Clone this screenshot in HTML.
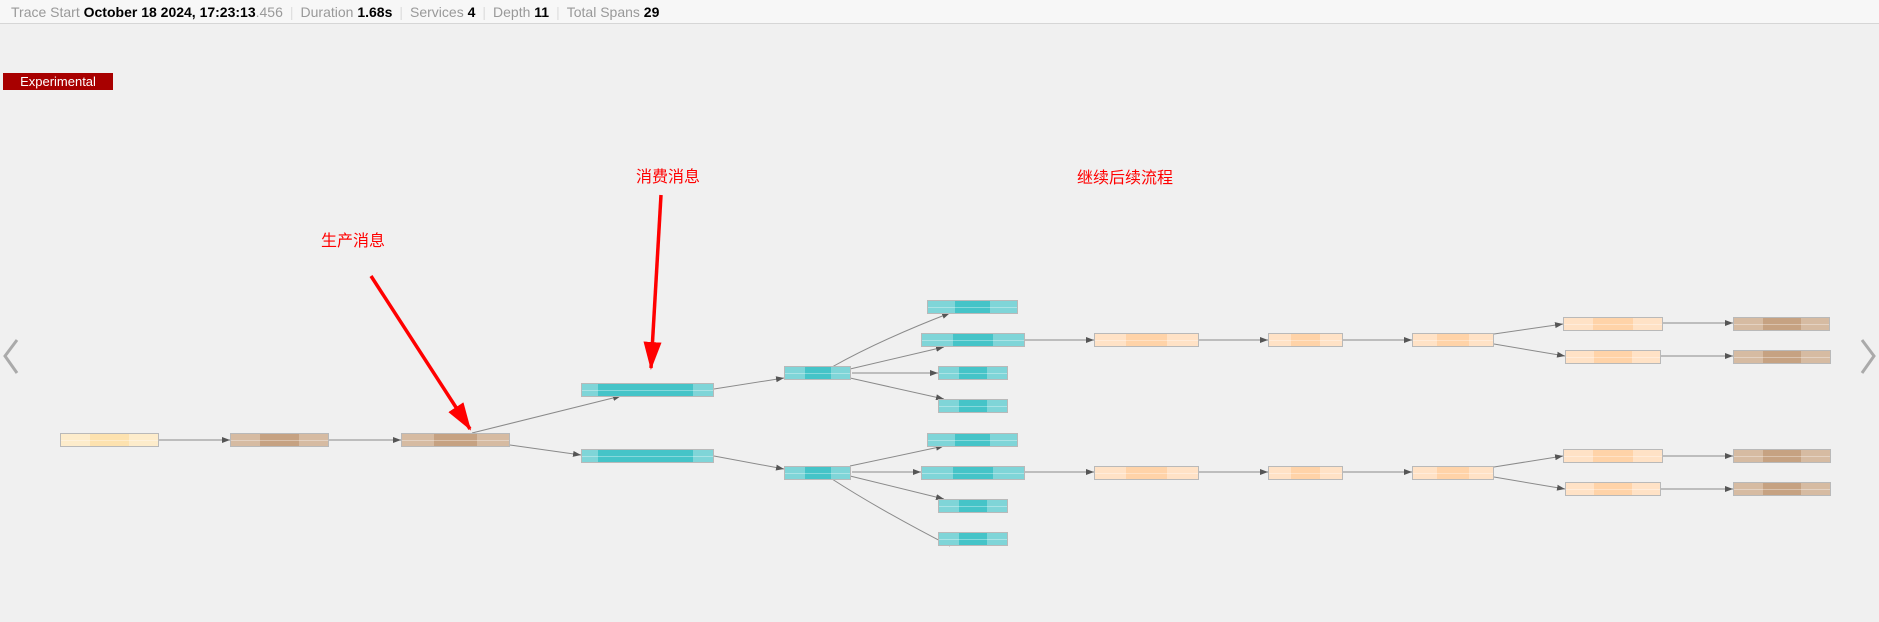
<!DOCTYPE html>
<html><head><meta charset="utf-8"><style>
*{margin:0;padding:0;box-sizing:border-box}
body{width:1879px;height:622px;background:#f0f0f0;position:relative;overflow:hidden;font-family:"Liberation Sans","Noto Sans CJK SC",sans-serif}
.hd{position:absolute;left:0;top:0;width:1879px;height:24px;background:#f7f7f7;border-bottom:1px solid #d6d6d6;font-size:14px;color:#999;line-height:24px;padding-left:11px;white-space:nowrap}
.hd b{color:#000}.hd .s{color:#ddd;margin:0 7px}
.exp{position:absolute;left:3px;top:73px;width:110px;height:17px;background:#a80000;color:#fff;font-size:13px;line-height:17px;text-align:center}
.n{position:absolute;height:14px;border:1px solid #b9b9b9;display:flex;font-size:3px;color:#555;overflow:hidden}
.n:after{content:"";position:absolute;left:0;right:0;top:6px;height:1px;background:rgba(255,255,255,.35)}
.n div{height:100%}
.n .l,.n .r{width:30%}
.n .m{flex:1}
.t .l,.t .r{background:#7fd5d8}.t .m{background:#45c4c8}
.o .l,.o .r{background:#ffe2c6}.o .m{background:#ffd3a8}
.b .l,.b .r{background:#d6bba2}.b .m{background:#c6a282}
.y .l,.y .r{background:#fdeccb}.y .m{background:#fde2af}
.ann{position:absolute;color:#f00;font-size:16px;white-space:nowrap}
</style></head><body>
<div class="hd">Trace Start <b>October 18 2024, 17:23:13</b>.456<span class="s">|</span>Duration <b>1.68s</b><span class="s">|</span>Services <b>4</b><span class="s">|</span>Depth <b>11</b><span class="s">|</span>Total Spans <b>29</b></div>
<div class="exp">Experimental</div>
<svg width="1879" height="622" style="position:absolute;left:0;top:0">
<defs><marker id="a" markerWidth="8" markerHeight="6" refX="8" refY="3" orient="auto" markerUnits="userSpaceOnUse"><path d="M0,0L8,3L0,6z" fill="#555"/></marker>
<marker id="r" markerWidth="28" markerHeight="18" refX="26" refY="9" orient="auto" markerUnits="userSpaceOnUse"><path d="M0,0L28,9L0,18z" fill="#f00"/></marker></defs>
<g stroke="#8a8a8a" stroke-width="1" fill="none" marker-end="url(#a)">
<path d="M159,440L230,440"/><path d="M329,440L401,440"/>
<path d="M472,433L621,396"/><path d="M510,445L581,455"/>
<path d="M714,389L784,378"/><path d="M714,456L784,469"/>
<path d="M832,367Q880,340 950,313"/><path d="M850,369L944,347"/><path d="M852,373L938,373"/><path d="M850,378L944,399"/>
<path d="M850,466L944,446"/><path d="M852,472L921,472"/><path d="M850,476L944,499"/><path d="M832,479Q880,510 950,546"/>
<path d="M1025,340L1094,340"/><path d="M1199,340L1268,340"/><path d="M1343,340L1412,340"/>
<path d="M1025,472L1094,472"/><path d="M1199,472L1268,472"/><path d="M1343,472L1412,472"/>
<path d="M1494,334L1563,324"/><path d="M1494,344L1565,356"/><path d="M1663,323L1733,323"/><path d="M1661,356L1733,356"/>
<path d="M1494,467L1563,456"/><path d="M1494,477L1565,489"/><path d="M1663,456L1733,456"/><path d="M1661,489L1733,489"/>
</g>
<g stroke="#f00" stroke-width="3.5" fill="none" marker-end="url(#r)">
<path d="M371,276L470,429"/><path d="M661,195L651,368"/>
</g>
<path d="M17,340L5,356L17,373" stroke="#aaa" stroke-width="3" fill="none"/>
<path d="M1862,340L1874,356L1862,373" stroke="#aaa" stroke-width="3" fill="none"/>
</svg>
<div class="ann" style="left:321px;top:227px">生产消息</div>
<div class="ann" style="left:636px;top:163px">消费消息</div>
<div class="ann" style="left:1077px;top:164px">继续后续流程</div>

<div class="n y" style="left:60px;top:433px;width:99px"><div class="l"></div><div class="m"></div><div class="r"></div></div>
<div class="n b" style="left:230px;top:433px;width:99px"><div class="l"></div><div class="m"></div><div class="r"></div></div>
<div class="n b" style="left:401px;top:433px;width:109px"><div class="l"></div><div class="m"></div><div class="r"></div></div>
<div class="n t" style="left:581px;top:383px;width:133px"><div class="l" style="width:12%"></div><div class="m"></div><div class="r" style="width:15%"></div></div>
<div class="n t" style="left:581px;top:449px;width:133px"><div class="l" style="width:12%"></div><div class="m"></div><div class="r" style="width:15%"></div></div>
<div class="n t" style="left:784px;top:366px;width:67px"><div class="l"></div><div class="m"></div><div class="r"></div></div>
<div class="n t" style="left:784px;top:466px;width:67px"><div class="l"></div><div class="m"></div><div class="r"></div></div>

<div class="n t" style="left:927px;top:300px;width:91px"><div class="l"></div><div class="m"></div><div class="r"></div></div>
<div class="n t" style="left:921px;top:333px;width:104px"><div class="l"></div><div class="m"></div><div class="r"></div></div>
<div class="n t" style="left:938px;top:366px;width:70px"><div class="l"></div><div class="m"></div><div class="r"></div></div>
<div class="n t" style="left:938px;top:399px;width:70px"><div class="l"></div><div class="m"></div><div class="r"></div></div>
<div class="n t" style="left:927px;top:433px;width:91px"><div class="l"></div><div class="m"></div><div class="r"></div></div>
<div class="n t" style="left:921px;top:466px;width:104px"><div class="l"></div><div class="m"></div><div class="r"></div></div>
<div class="n t" style="left:938px;top:499px;width:70px"><div class="l"></div><div class="m"></div><div class="r"></div></div>
<div class="n t" style="left:938px;top:532px;width:70px"><div class="l"></div><div class="m"></div><div class="r"></div></div>

<div class="n o" style="left:1094px;top:333px;width:105px"><div class="l"></div><div class="m"></div><div class="r"></div></div>
<div class="n o" style="left:1268px;top:333px;width:75px"><div class="l"></div><div class="m"></div><div class="r"></div></div>
<div class="n o" style="left:1412px;top:333px;width:82px"><div class="l"></div><div class="m"></div><div class="r"></div></div>
<div class="n o" style="left:1563px;top:317px;width:100px"><div class="l"></div><div class="m"></div><div class="r"></div></div>
<div class="n o" style="left:1565px;top:350px;width:96px"><div class="l"></div><div class="m"></div><div class="r"></div></div>
<div class="n b" style="left:1733px;top:317px;width:97px"><div class="l"></div><div class="m"></div><div class="r"></div></div>
<div class="n b" style="left:1733px;top:350px;width:98px"><div class="l"></div><div class="m"></div><div class="r"></div></div>

<div class="n o" style="left:1094px;top:466px;width:105px"><div class="l"></div><div class="m"></div><div class="r"></div></div>
<div class="n o" style="left:1268px;top:466px;width:75px"><div class="l"></div><div class="m"></div><div class="r"></div></div>
<div class="n o" style="left:1412px;top:466px;width:82px"><div class="l"></div><div class="m"></div><div class="r"></div></div>
<div class="n o" style="left:1563px;top:449px;width:100px"><div class="l"></div><div class="m"></div><div class="r"></div></div>
<div class="n o" style="left:1565px;top:482px;width:96px"><div class="l"></div><div class="m"></div><div class="r"></div></div>
<div class="n b" style="left:1733px;top:449px;width:98px"><div class="l"></div><div class="m"></div><div class="r"></div></div>
<div class="n b" style="left:1733px;top:482px;width:98px"><div class="l"></div><div class="m"></div><div class="r"></div></div>
</body></html>
